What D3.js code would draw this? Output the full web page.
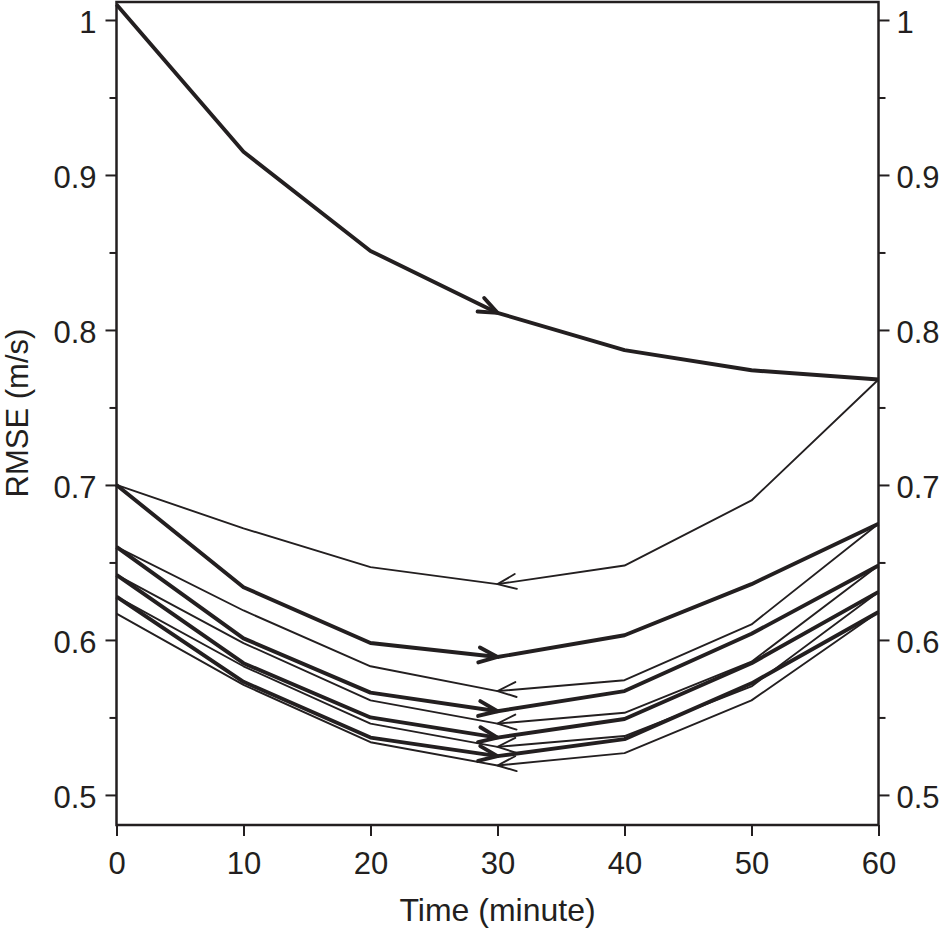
<!DOCTYPE html>
<html>
<head>
<meta charset="utf-8">
<script src="https://cdn.jsdelivr.net/npm/d3@7"></script>
<style>
  html, body { margin: 0; padding: 0; background: #fff; }
  svg text { font-family: "Liberation Sans", Arial, Helvetica, sans-serif; fill: #231f20; }
</style>
</head>
<body>
<div id="chart-container"></div>
<script>
// RMSE vs time - forward (thick, arrow right) and backward (thin, arrow left) passes

const time = [0, 10, 20, 30, 40, 50, 60];

// thick lines, read left to right
const forward1 = [1.010, 0.915, 0.851, 0.811, 0.787, 0.774, 0.768];
const forward2 = [0.700, 0.634, 0.598, 0.589, 0.603, 0.636, 0.675];
const forward3 = [0.660, 0.601, 0.566, 0.554, 0.567, 0.604, 0.648];
const forward4 = [0.642, 0.585, 0.550, 0.537, 0.549, 0.585, 0.631];
const forward5 = [0.628, 0.573, 0.537, 0.525, 0.536, 0.572, 0.618];

// thin lines, values at t = 0..60 (drawn from 60 back to 0)
const backward1 = [0.700, 0.672, 0.647, 0.636, 0.648, 0.690, 0.768];
const backward2 = [0.660, 0.619, 0.583, 0.567, 0.574, 0.610, 0.675];
const backward3 = [0.642, 0.598, 0.561, 0.546, 0.553, 0.586, 0.648];
const backward4 = [0.628, 0.583, 0.546, 0.531, 0.538, 0.570, 0.631];
const backward5 = [0.617, 0.571, 0.534, 0.519, 0.527, 0.561, 0.618];

const xTicks = [0, 10, 20, 30, 40, 50, 60];
const yTicks = [0.5, 0.6, 0.7, 0.8, 0.9, 1.0];
const yTickLabels = ["0.5", "0.6", "0.7", "0.8", "0.9", "1"];
const yMinorTicks = [0.55, 0.65, 0.75, 0.85, 0.95];

const svgWidth = 945;
const svgHeight = 930;
const margin = { top: 2, right: 66.5, bottom: 105, left: 116.5 };
const width = svgWidth - margin.left - margin.right;
const height = svgHeight - margin.top - margin.bottom;
const ink = "#231f20";

const svg = d3.select("#chart-container")
    .append("svg")
    .attr("width", svgWidth)
    .attr("height", svgHeight);

const defs = svg.append("defs");
function addArrow(id, sw) {
    defs.append("marker")
        .attr("id", id)
        .attr("markerUnits", "userSpaceOnUse")
        .attr("orient", "auto")
        .attr("markerWidth", 40)
        .attr("markerHeight", 40)
        .attr("refX", 0)
        .attr("refY", 0)
        .attr("overflow", "visible")
        .append("path")
        .attr("d", "M-18.5,-7.5L0,0L-18.5,7.5")
        .attr("fill", "none")
        .attr("stroke", ink)
        .attr("stroke-width", sw)
        .attr("stroke-linecap", "round")
        .attr("stroke-linejoin", "round");
}
addArrow("arrowThick", 3.9);
addArrow("arrowThin", 1.9);

const chart = svg.append("g")
    .attr("transform", `translate(${margin.left},${margin.top})`);

const scaleX = d3.scaleLinear()
    .domain([0, 60])
    .range([0, width]);

const scaleY = d3.scaleLinear()
    .domain([0.4806, 1.0116])
    .range([height, 0]);

// axes
const fontSize = "31px";

const bottomAxis = chart.append("g")
    .attr("transform", `translate(0,${height})`)
    .call(d3.axisBottom(scaleX).tickValues(xTicks).tickSize(11).tickSizeOuter(0).tickPadding(16));

const leftAxis = chart.append("g")
    .call(d3.axisLeft(scaleY).tickValues(yTicks).tickFormat((d, i) => yTickLabels[i])
        .tickSize(11).tickSizeOuter(0).tickPadding(9));

const leftMinor = chart.append("g")
    .call(d3.axisLeft(scaleY).tickValues(yMinorTicks).tickFormat("").tickSize(7).tickSizeOuter(0));

const rightAxis = chart.append("g")
    .attr("transform", `translate(${width},0)`)
    .call(d3.axisRight(scaleY).tickValues(yTicks).tickFormat((d, i) => yTickLabels[i])
        .tickSize(11).tickSizeOuter(0).tickPadding(7));

const rightMinor = chart.append("g")
    .attr("transform", `translate(${width},0)`)
    .call(d3.axisRight(scaleY).tickValues(yMinorTicks).tickFormat("").tickSize(7).tickSizeOuter(0));

[bottomAxis, leftAxis, leftMinor, rightAxis, rightMinor].forEach(function(ax) {
    ax.select(".domain").remove();
    ax.selectAll("line").attr("stroke", ink).attr("stroke-width", 2);
    ax.selectAll("text").attr("font-size", fontSize).attr("fill", ink)
        .style("font-family", "'Liberation Sans', Arial, sans-serif");
});
leftAxis.selectAll("text").attr("dy", "0.4em");
rightAxis.selectAll("text").attr("dy", "0.4em");

// frame
chart.append("rect")
    .attr("x", 0)
    .attr("y", 0)
    .attr("width", width)
    .attr("height", height)
    .attr("fill", "none")
    .attr("stroke", ink)
    .attr("stroke-width", 2.5);

// titles
chart.append("text")
    .attr("x", width / 2)
    .attr("y", 919)
    .attr("text-anchor", "middle")
    .attr("font-size", "32px")
    .text("Time (minute)");

svg.append("text")
    .attr("transform", "rotate(-90)")
    .attr("x", -413)
    .attr("y", 27.5)
    .attr("text-anchor", "middle")
    .attr("font-size", "31px")
    .text("RMSE (m/s)");

// lines
const line = d3.line()
    .x(d => scaleX(d[0]))
    .y(d => scaleY(d[1]));

function drawRun(values, thick, reverse) {
    let pts = time.map((t, i) => [t, values[i]]);
    if (reverse) pts = pts.slice().reverse();
    const first = pts.slice(0, 4);   // start -> t=30, arrow at the end
    const rest = pts.slice(3);
    const sw = thick ? 3.9 : 1.9;
    chart.append("path")
        .datum(first)
        .attr("d", line)
        .attr("fill", "none")
        .attr("stroke", ink)
        .attr("stroke-width", sw)
        .attr("stroke-linejoin", "round")
        .attr("marker-end", thick ? "url(#arrowThick)" : "url(#arrowThin)");
    chart.append("path")
        .datum(rest)
        .attr("d", line)
        .attr("fill", "none")
        .attr("stroke", ink)
        .attr("stroke-width", sw)
        .attr("stroke-linejoin", "round");
}

[backward1, backward2, backward3, backward4, backward5].forEach(v => drawRun(v, false, true));
[forward1, forward2, forward3, forward4, forward5].forEach(v => drawRun(v, true, false));
</script>
</body>
</html>
